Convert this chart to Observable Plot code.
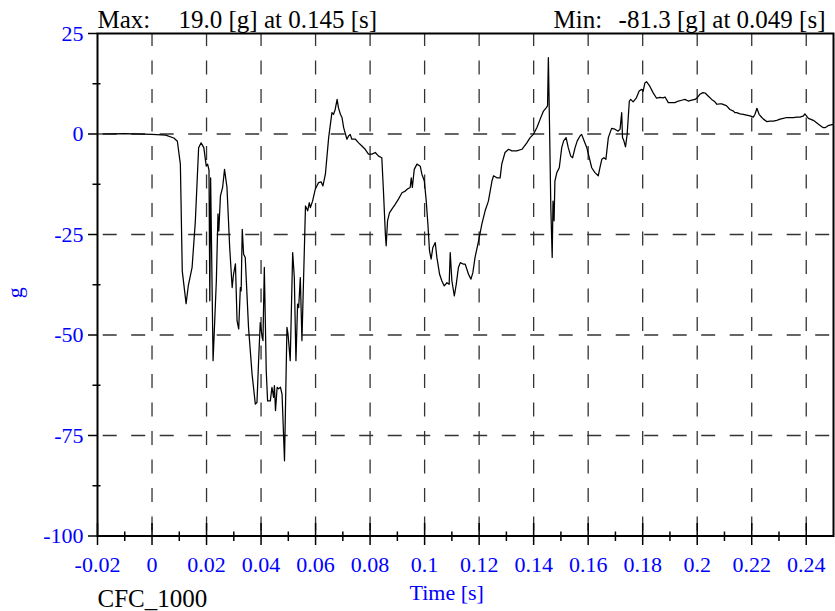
<!DOCTYPE html>
<html><head><meta charset="utf-8">
<script src="https://cdn.jsdelivr.net/npm/d3@7"></script>
<script src="https://cdn.jsdelivr.net/npm/@observablehq/plot@0.6"></script>
<style>body{margin:0;background:#fff}</style>
</head><body><div id="chart"></div>
<script>
// [time (s), acceleration (g)]
const trace = [
[-0.02,0],[-0.01,0.1],[0,-0.1],[0.005,-0.3],[0.008,-1.0],[0.0093,-1.8],[0.0104,-7.5],[0.0111,-34.1],[0.0125,-42.2],[0.0133,-37.8],
[0.0147,-33.2],[0.0159,-21.6],[0.0171,-3.4],[0.0180,-2.2],[0.0190,-3.4],[0.0199,-8.0],[0.0204,-7.5],[0.0209,-9.0],[0.0212,-41.5],[0.0215,-10.9],
[0.0224,-56.4],[0.0230,-46.5],[0.0236,-36.5],[0.0242,-19.9],[0.0245,-24.1],[0.0251,-15.4],[0.0259,-13.3],[0.0266,-8.8],[0.0275,-13.3],[0.0285,-28.3],
[0.0294,-38.2],[0.0299,-34.9],[0.0306,-32.3],[0.0312,-46.5],[0.0318,-48.5],[0.0324,-38.2],[0.0327,-39.0],[0.0331,-23.7],[0.0336,-29.9],[0.0342,-30.7],
[0.0354,-48.1],[0.0367,-59.7],[0.0379,-67.2],[0.0385,-66.8],[0.0391,-56.4],[0.0397,-46.9],[0.0404,-50.6],[0.0407,-51.4],[0.0412,-33.2],[0.0419,-58.9],
[0.0424,-66.4],[0.0434,-66.4],[0.0440,-63.0],[0.0446,-65.5],[0.0449,-62.6],[0.0453,-68.8],[0.0459,-63.0],[0.0464,-63.4],[0.0471,-63.0],[0.0477,-64.7],
[0.0486,-81.3],[0.0495,-48.1],[0.0499,-49.8],[0.0507,-56.4],[0.0516,-29.5],[0.0522,-35.7],[0.0528,-56.4],[0.0534,-42.3],[0.0538,-43.2],[0.0544,-35.7],
[0.0550,-51.4],[0.0559,-28.3],[0.0563,-17.9],[0.0571,-19.1],[0.0577,-17.1],[0.0581,-18.3],[0.0589,-16.7],[0.0599,-13.7],[0.0611,-12.1],[0.0620,-11.9],
[0.0627,-12.9],[0.0636,-10.0],[0.0648,-0.9],[0.0660,5.3],[0.0666,4.9],[0.0672,6.1],[0.0679,8.6],[0.0684,6.5],[0.0691,4.9],[0.0697,4.1],
[0.0703,1.6],[0.0715,-1.3],[0.0721,-0.5],[0.0727,-0.1],[0.0733,-1.3],[0.0746,-1.3],[0.0758,-2.2],[0.0770,-3.0],[0.0782,-3.8],[0.0794,-5.0],
[0.0807,-5.0],[0.0819,-4.6],[0.0831,-5.5],[0.0843,-5.9],[0.0849,-14.2],[0.0856,-24.9],[0.0859,-27.8],[0.0864,-21.6],[0.0871,-19.6],[0.0880,-18.7],
[0.0892,-17.5],[0.0904,-16.2],[0.0917,-14.6],[0.0929,-14.2],[0.0937,-13.7],[0.0947,-13.3],[0.0951,-10.9],[0.0955,-13.3],[0.0962,-8.8],[0.0972,-7.5],
[0.0984,-8.0],[0.0990,-10.0],[0.0999,-11.7],[0.1006,-16.7],[0.1012,-22.4],[0.1018,-29.1],[0.1024,-31.1],[0.1030,-28.3],[0.1039,-27.0],[0.1045,-30.7],
[0.1055,-34.9],[0.1063,-36.5],[0.1072,-37.8],[0.1082,-37.0],[0.1090,-37.4],[0.1094,-29.5],[0.1100,-36.5],[0.1109,-40.3],[0.1116,-37.4],[0.1124,-33.2],
[0.1131,-32.0],[0.1143,-32.4],[0.1149,-32.4],[0.1161,-34.9],[0.1170,-36.1],[0.1177,-34.5],[0.1185,-30.7],[0.1198,-26.6],[0.1210,-22.4],[0.1222,-19.1],
[0.1234,-16.7],[0.1247,-11.7],[0.1253,-10.4],[0.1265,-10.9],[0.1277,-10.9],[0.1283,-7.5],[0.1295,-4.6],[0.1308,-3.8],[0.1320,-4.2],[0.1338,-4.2],
[0.1357,-3.8],[0.1375,-2.2],[0.1387,-0.9],[0.1399,-0.1],[0.1412,1.6],[0.1424,3.7],[0.1436,5.7],[0.1446,6.5],[0.1451,7.0],[0.1454,19.0],
[0.1458,3.2],[0.1463,-18.3],[0.1468,-30.7],[0.1471,-16.7],[0.1475,-21.6],[0.1478,-11.7],[0.1485,-9.6],[0.1494,-8.4],[0.1503,-3.4],[0.1510,-1.7],
[0.1519,-0.9],[0.1527,-3.4],[0.1536,-5.5],[0.1543,-5.9],[0.1552,-3.4],[0.1560,-1.7],[0.1570,-0.5],[0.1576,-0.1],[0.1585,-1.7],[0.1595,-3.4],
[0.1604,-5.9],[0.1613,-8.4],[0.1625,-9.6],[0.1637,-10.4],[0.1643,-8.4],[0.1650,-6.3],[0.1658,-5.9],[0.1665,-6.3],[0.1674,-0.9],[0.1686,1.4],
[0.1698,1.2],[0.1710,0.7],[0.1717,1.2],[0.1723,5.3],[0.1726,-0.9],[0.1731,-1.7],[0.1737,-3.2],[0.1743,-0.1],[0.1751,8.2],[0.1756,8.6],
[0.1765,8.0],[0.1777,9.0],[0.1787,10.7],[0.1796,11.1],[0.1802,10.7],[0.1808,12.7],[0.1814,13.0],[0.1826,11.9],[0.1838,10.3],[0.1851,8.9],
[0.1863,9.1],[0.1875,9.0],[0.1882,9.2],[0.1894,7.8],[0.1906,7.8],[0.1918,7.8],[0.1931,8.2],[0.1943,8.4],[0.1955,8.6],[0.1967,8.2],
[0.1980,8.4],[0.1992,8.6],[0.2000,9.0],[0.2010,9.9],[0.2021,10.3],[0.2029,10.2],[0.2041,9.4],[0.2053,8.6],[0.2065,8.0],[0.2072,7.4],
[0.2084,7.5],[0.2090,7.5],[0.2102,7.2],[0.2108,7.0],[0.2120,6.1],[0.2133,5.7],[0.2139,5.3],[0.2145,5.3],[0.2157,5.0],[0.2169,4.9],
[0.2181,4.7],[0.2194,4.5],[0.2206,4.2],[0.2212,4.9],[0.2219,6.4],[0.2227,4.9],[0.2237,4.1],[0.2243,3.7],[0.2255,3.1],[0.2267,3.2],
[0.2279,3.2],[0.2292,3.4],[0.2304,3.7],[0.2316,3.9],[0.2328,4.1],[0.2341,4.1],[0.2353,4.1],[0.2365,4.2],[0.2377,4.2],[0.2390,4.5],
[0.2395,5.0],[0.2408,3.9],[0.2426,3.4],[0.2438,2.8],[0.2445,2.4],[0.2457,1.8],[0.2463,1.6],[0.2469,1.6],[0.2475,1.8],[0.2481,2.1],
[0.2487,2.2],[0.2499,2.4]
];

const xTicks = [-0.02, 0, 0.02, 0.04, 0.06, 0.08, 0.1, 0.12, 0.14, 0.16, 0.18, 0.2, 0.22, 0.24];
const xMinorTicks = [-0.01, 0.01, 0.03, 0.05, 0.07, 0.09, 0.11, 0.13, 0.15, 0.17, 0.19, 0.21, 0.23];
const xGrid = [0, 0.02, 0.04, 0.06, 0.08, 0.1, 0.12, 0.14, 0.16, 0.18, 0.2, 0.22, 0.24];
const yTicks = [25, 0, -25, -50, -75, -100];
const yMinorTicks = [12.5, -12.5, -37.5, -62.5, -87.5];
const yGrid = [0, -25, -50, -75];
const maxLabel = ["Max:", "19.0 [g] at 0.145 [s]"];
const minLabel = ["Min:", "-81.3 [g] at 0.049 [s]"];
const xLabel = ["Time [s]"];
const yLabel = ["g"];
const filterLabel = ["CFC_1000"];

const W = 835, H = 611, mL = 97, mR = 2, mT = 33, mB = 75.5;
const fw = W - mL - mR, fh = H - mT - mB;
const blue = "#0000ff";

const chart = Plot.plot({
  width: W, height: H,
  marginLeft: mL, marginRight: mR, marginTop: mT, marginBottom: mB,
  style: {fontFamily: "'Liberation Serif', 'Times New Roman', serif", background: "white", overflow: "visible"},
  x: {domain: [-0.02, 0.25]},
  y: {domain: [-100, 25]},
  marks: [
    Plot.ruleX(xGrid, {stroke: "#333", strokeWidth: 1.3, strokeDasharray: "14,14.5", strokeDashoffset: 1}),
    Plot.ruleY(yGrid, {stroke: "#333", strokeWidth: 1.3, strokeDasharray: "14,14.5", strokeDashoffset: -5.7}),
    Plot.line(trace, {x: d => d[0], y: d => d[1], stroke: "black", strokeWidth: 1.25}),
    Plot.frame({stroke: "black", strokeWidth: 2}),
    Plot.ruleX(xTicks, {insetTop: fh - 12.5, insetBottom: -9.5, stroke: "black", strokeWidth: 1.5}),
    Plot.ruleX(xMinorTicks, {insetTop: fh - 4, insetBottom: -5.5, stroke: "black", strokeWidth: 1.5}),
    Plot.ruleY(yTicks, {insetLeft: -9, insetRight: fw, stroke: "black", strokeWidth: 1.5}),
    Plot.ruleY(yMinorTicks, {insetLeft: -4.5, insetRight: fw - 3.5, stroke: "black", strokeWidth: 1.5}),
    Plot.axisX(xTicks, {tickSize: 0, tickPadding: 20, fontSize: 22, fill: blue, tickFormat: d => String(d), label: null}),
    Plot.axisY(yTicks, {tickSize: 0, tickPadding: 14, fontSize: 22, fill: blue, tickFormat: d => String(d), label: null}),
    Plot.text([maxLabel[0]], {text: d => d, frameAnchor: "top-left", textAnchor: "start", lineAnchor: "bottom", dy: -6, fontSize: 25, fill: "black"}),
    Plot.text([maxLabel[1]], {text: d => d, frameAnchor: "top-left", textAnchor: "start", lineAnchor: "bottom", dx: 81, dy: -6, fontSize: 25, fill: "black"}),
    Plot.text([minLabel[0]], {text: d => d, frameAnchor: "top-right", textAnchor: "start", lineAnchor: "bottom", dx: -280, dy: -6, fontSize: 25, fill: "black"}),
    Plot.text([minLabel[1]], {text: d => d, frameAnchor: "top-right", textAnchor: "end", lineAnchor: "bottom", dx: -8, dy: -6, fontSize: 25, fill: "black"}),
    Plot.text(xLabel, {text: d => d, frameAnchor: "bottom-left", textAnchor: "start", lineAnchor: "bottom", dx: 312, dy: 64, fontSize: 22, fill: blue}),
    Plot.text(filterLabel, {text: d => d, frameAnchor: "bottom-left", textAnchor: "start", lineAnchor: "bottom", dx: 0, dy: 70.5, fontSize: 25, fill: "black"}),
    Plot.text(yLabel, {text: d => d, frameAnchor: "left", textAnchor: "middle", lineAnchor: "middle", rotate: -90, dx: -82.5, dy: 8, fontSize: 22, fill: blue})
  ]
});
document.getElementById("chart").appendChild(chart);
</script>
</body></html>
